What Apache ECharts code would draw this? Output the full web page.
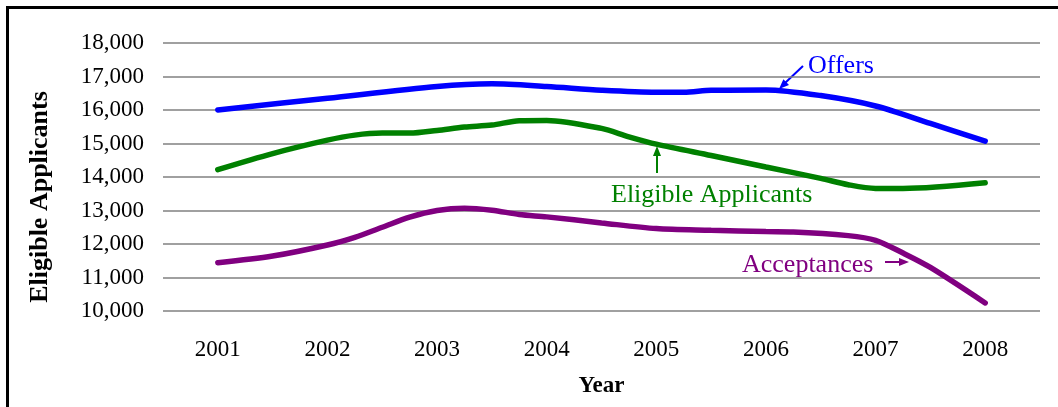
<!DOCTYPE html>
<html>
<head>
<meta charset="utf-8">
<script src="https://cdn.jsdelivr.net/npm/echarts@6/dist/echarts.min.js"></script>
<style>
  html, body { margin: 0; padding: 0; background: #fff; }
  #charts { width: 1058px; height: 407px; }
</style>
</head>
<body>
<div id="charts"></div>
<script>
  // year ticks on the x axis
  var years = [2001, 2002, 2003, 2004, 2005, 2006, 2007, 2008];

  // Offers
  var offersX = [2001, 2002, 2003, 2003.5, 2004, 2004.5, 2005, 2005.25, 2005.5, 2006, 2006.5, 2007, 2007.5, 2008];
  var offersY = [16000, 16350, 16700, 16780, 16700, 16590, 16530, 16530, 16590, 16600, 16430, 16120, 15600, 15070];

  // Eligible Applicants
  var eligibleX = [2001, 2001.5, 2002, 2002.25, 2002.5, 2002.75, 2003, 2003.25, 2003.5, 2003.75, 2004, 2004.5, 2004.75, 2005, 2005.5, 2006, 2006.5, 2006.75, 2007, 2007.25, 2008];
  var eligibleY = [14220, 14700, 15100, 15250, 15310, 15310, 15390, 15490, 15550, 15680, 15690, 15450, 15200, 14980, 14640, 14300, 13960, 13770, 13660, 13660, 13830];

  // Acceptances
  var acceptX = [2001, 2001.5, 2002, 2002.25, 2002.5, 2002.75, 2003, 2003.25, 2003.5, 2003.75, 2004, 2004.5, 2005, 2005.5, 2006, 2006.25, 2006.75, 2007, 2007.25, 2007.5, 2008];
  var acceptY = [11440, 11640, 11970, 12200, 12500, 12800, 13000, 13070, 13010, 12880, 12810, 12630, 12460, 12410, 12370, 12360, 12250, 12110, 11730, 11300, 10240];

  function pairs(xs, ys) {
    return xs.map(function (x, i) { return [x, ys[i]]; });
  }

  var serif = '"Liberation Serif", "DejaVu Serif", serif';

  var chart = echarts.init(document.getElementById('charts'));
  chart.setOption({
    animation: false,
    grid: { left: 163, right: 18, top: 43, bottom: 96 },
    xAxis: {
      type: 'value',
      min: 2000.5,
      max: 2008.5,
      name: 'Year',
      nameLocation: 'middle',
      nameGap: 64,
      nameTextStyle: { fontFamily: serif, fontSize: 23, fontWeight: 'bold', color: '#000' },
      axisLine: { show: false },
      axisTick: { show: false },
      splitLine: { show: false },
      axisLabel: {
        customValues: years,
        margin: 27,
        fontFamily: serif,
        fontSize: 23,
        color: '#000',
        formatter: function (v) { return String(v); }
      }
    },
    yAxis: {
      type: 'value',
      min: 10000,
      max: 18000,
      interval: 1000,
      axisLine: { show: false },
      axisTick: { show: false },
      splitLine: { lineStyle: { color: '#808080', width: 1.5 } },
      axisLabel: {
        margin: 19,
        fontFamily: serif,
        fontSize: 23,
        color: '#000',
        formatter: function (v) { return v.toLocaleString('en-US'); }
      }
    },
    series: [
      {
        name: 'Offers', type: 'line', smooth: 0.3, symbol: 'none',
        lineStyle: { color: '#0000ff', width: 5.5, cap: 'round' },
        data: pairs(offersX, offersY)
      },
      {
        name: 'Eligible Applicants', type: 'line', smooth: 0.3, symbol: 'none',
        lineStyle: { color: '#008000', width: 5.5, cap: 'round' },
        data: pairs(eligibleX, eligibleY)
      },
      {
        name: 'Acceptances', type: 'line', smooth: 0.3, symbol: 'none',
        lineStyle: { color: '#800080', width: 5.5, cap: 'round' },
        data: pairs(acceptX, acceptY)
      }
    ],
    graphic: [
      // outer frame
      { type: 'rect', shape: { x: 7.5, y: 7.5, width: 1060, height: 420 },
        style: { fill: 'none', stroke: '#000', lineWidth: 3 }, silent: true },
      // y axis title
      { type: 'text', x: 40, y: 197, rotation: Math.PI / 2,
        style: { text: 'Eligible Applicants', font: 'bold 26px ' + serif, fill: '#000',
                 align: 'center', verticalAlign: 'middle' } },
      // Offers label + arrow
      { type: 'text', x: 808, y: 66,
        style: { text: 'Offers', font: '26px ' + serif, fill: '#0000ff', align: 'left', verticalAlign: 'middle' } },
      { type: 'line', shape: { x1: 803, y1: 66, x2: 785, y2: 83 },
        style: { stroke: '#0000ff', lineWidth: 2 } },
      { type: 'polygon', shape: { points: [[779, 89], [789, 85], [783.4, 79.2]] },
        style: { fill: '#0000ff' } },
      // Eligible Applicants label + arrow
      { type: 'text', x: 611, y: 195,
        style: { text: 'Eligible Applicants', font: '26px ' + serif, fill: '#008000', align: 'left', verticalAlign: 'middle' } },
      { type: 'line', shape: { x1: 657, y1: 173, x2: 657, y2: 155 },
        style: { stroke: '#008000', lineWidth: 2 } },
      { type: 'polygon', shape: { points: [[657, 146], [653, 156], [661, 156]] },
        style: { fill: '#008000' } },
      // Acceptances label + arrow
      { type: 'text', x: 742, y: 265,
        style: { text: 'Acceptances', font: '26px ' + serif, fill: '#800080', align: 'left', verticalAlign: 'middle' } },
      { type: 'line', shape: { x1: 885, y1: 262, x2: 900, y2: 262 },
        style: { stroke: '#800080', lineWidth: 2 } },
      { type: 'polygon', shape: { points: [[909, 262], [899, 258], [899, 266]] },
        style: { fill: '#800080' } }
    ]
  });
</script>
</body>
</html>
